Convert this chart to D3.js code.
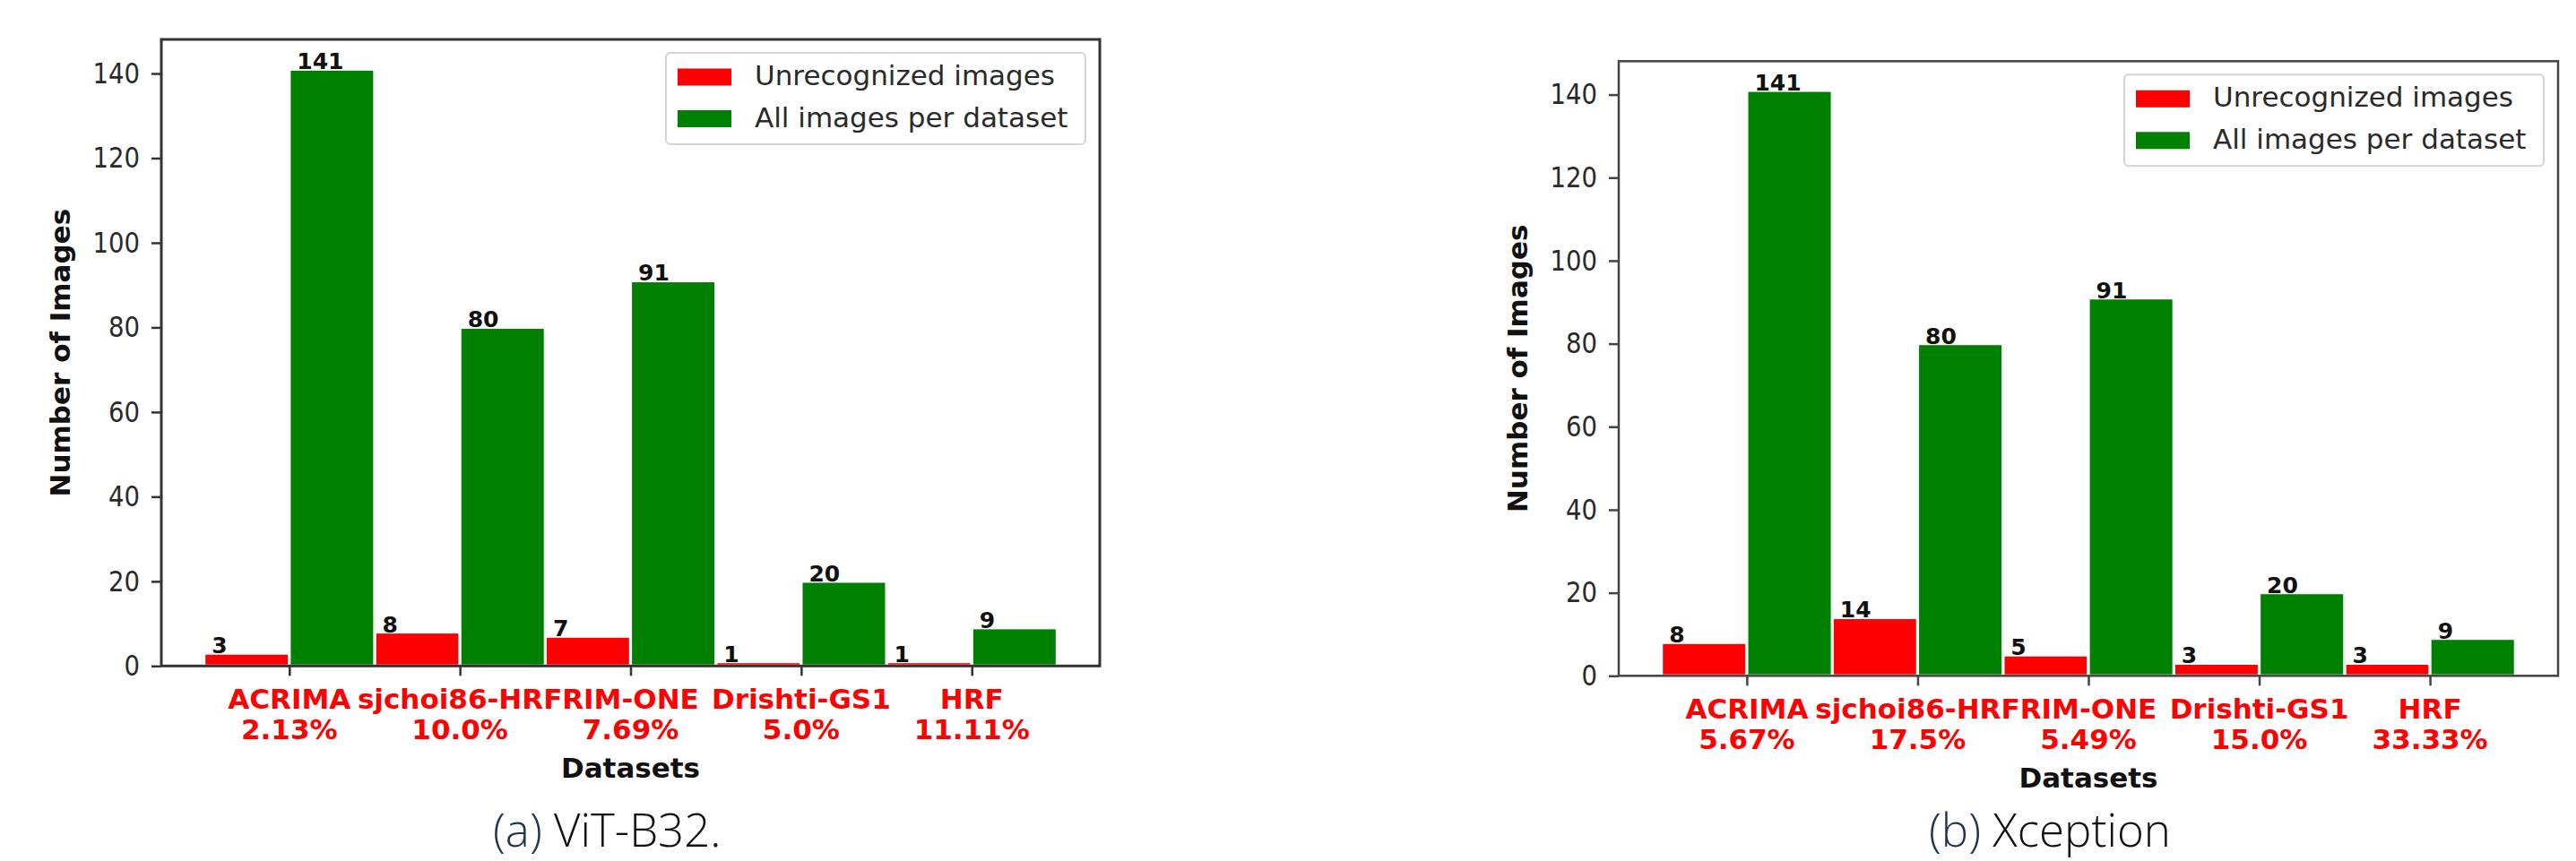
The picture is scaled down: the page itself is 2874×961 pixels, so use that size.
<!DOCTYPE html>
<html>
<head>
<meta charset="utf-8">
<script src="https://cdn.jsdelivr.net/npm/d3@7"></script>
<style>
  html, body { margin: 0; padding: 0; background: #fff; }
  svg { display: block; }
</style>
</head>
<body>
<svg id="fig" width="2874" height="961"></svg>
<script>
// ---------------- data ----------------
const categories = ["ACRIMA", "sjchoi86-HRF", "RIM-ONE", "Drishti-GS1", "HRF"];
const allImages = [141, 80, 91, 20, 9];
const vitUnrecognized = [3, 8, 7, 1, 1];
const xceptionUnrecognized = [8, 14, 5, 3, 3];
const vitPercent = ["2.13%", "10.0%", "7.69%", "5.0%", "11.11%"];
const xceptionPercent = ["5.67%", "17.5%", "5.49%", "15.0%", "33.33%"];
const yTicks = [0, 20, 40, 60, 80, 100, 120, 140];
const seriesNames = ["Unrecognized images", "All images per dataset"];
const seriesColors = ["#ff0000", "#008000"];
const yDomain = [0, 148.05];
const xDomain = [-0.75, 4.75];
const xLabel = "Datasets";
const yLabel = "Number of Images";
const captionTags = ["(a)", "(b)"];
const captionNames = ["ViT-B32.", "Xception"];

// ---------------- drawing ----------------
const svg = d3.select("#fig");
const FONT = "'DejaVu Sans', sans-serif";

function drawChart(cfg) {
  const g = svg.append("g");
  const x = d3.scaleLinear().domain(xDomain).range([cfg.left, cfg.right]);
  const y = d3.scaleLinear().domain(yDomain).range([cfg.bottom, cfg.top]);

  // bars
  const rows = categories.map((c, i) => ({i, red: cfg.unrec[i], green: allImages[i]}));
  g.selectAll("rect.red").data(rows).join("rect")
    .attr("x", d => x(d.i - 0.5)).attr("width", d => x(d.i) - x(d.i - 0.5))
    .attr("y", d => y(d.red)).attr("height", d => y(0) - y(d.red))
    .attr("fill", seriesColors[0]).attr("stroke", "#fff").attr("stroke-width", 3.2);
  g.selectAll("rect.green").data(rows).join("rect")
    .attr("x", d => x(d.i)).attr("width", d => x(d.i + 0.5) - x(d.i))
    .attr("y", d => y(d.green)).attr("height", d => y(0) - y(d.green))
    .attr("fill", seriesColors[1]).attr("stroke", "#fff").attr("stroke-width", 3.2);

  // value labels
  const lblOff = 0.045;
  g.selectAll("text.vr").data(rows).join("text")
    .attr("x", d => x(d.i - 0.5 + lblOff)).attr("y", d => y(d.red))
    .attr("font-family", FONT).attr("font-weight", "bold").attr("font-size", 25)
    .attr("fill", "#111").text(d => d.red);
  g.selectAll("text.vg").data(rows).join("text")
    .attr("x", d => x(d.i + lblOff)).attr("y", d => y(d.green))
    .attr("font-family", FONT).attr("font-weight", "bold").attr("font-size", 25)
    .attr("fill", "#111").text(d => d.green);

  // y axis
  const yAxis = d3.axisLeft(y).tickValues(yTicks).tickSize(11).tickPadding(12).tickFormat(d3.format("d"));
  const ya = g.append("g").attr("transform", `translate(${cfg.left},0)`).call(yAxis);
  ya.select(".domain").remove();
  ya.selectAll(".tick line").attr("stroke", cfg.spine).attr("stroke-width", 2.5);
  const sq = 0.86;
  ya.selectAll(".tick text").attr("font-family", FONT).attr("font-size", 32)
    .attr("fill", "#2a2a2a")
    .attr("x", -24 / sq).attr("transform", `scale(${sq},1)`);

  // x axis
  const xAxis = d3.axisBottom(x).tickValues(d3.range(categories.length)).tickSize(11).tickFormat("");
  const xa = g.append("g").attr("transform", `translate(0,${cfg.bottom})`).call(xAxis);
  xa.select(".domain").remove();
  xa.selectAll(".tick line").attr("stroke", cfg.spine).attr("stroke-width", 2.5);

  // x tick labels (two lines, red bold)
  const xl = g.selectAll("text.xl").data(categories).join("text")
    .attr("text-anchor", "middle").attr("font-family", FONT).attr("font-weight", "bold")
    .attr("font-size", 31).attr("fill", "#ff0000");
  xl.append("tspan").attr("x", (d, i) => x(i)).attr("y", cfg.bottom + 48).text(d => d);
  xl.append("tspan").attr("x", (d, i) => x(i)).attr("y", cfg.bottom + 82).text((d, i) => cfg.pct[i]);

  // frame
  g.append("rect").attr("x", cfg.left).attr("y", cfg.top)
    .attr("width", cfg.right - cfg.left).attr("height", cfg.bottom - cfg.top)
    .attr("fill", "none").attr("stroke", cfg.spine).attr("stroke-width", cfg.spineW);

  // axis labels
  g.append("text").attr("x", (cfg.left + cfg.right) / 2).attr("y", cfg.bottom + 125)
    .attr("text-anchor", "middle").attr("font-family", FONT).attr("font-weight", "bold")
    .attr("font-size", 31).attr("fill", "#111").text(xLabel);
  g.append("text")
    .attr("transform", `translate(${cfg.left - 102},${(cfg.top + cfg.bottom) / 2}) rotate(-90)`)
    .attr("text-anchor", "middle").attr("font-family", FONT).attr("font-weight", "bold")
    .attr("font-size", 31).attr("fill", "#111").text(yLabel);

  // legend
  const lw = 468, lh = 102;
  const lx = cfg.right - 16 - lw, ly = cfg.top + 15;
  const lg = g.append("g");
  lg.append("rect").attr("x", lx).attr("y", ly).attr("width", lw).attr("height", lh)
    .attr("rx", 5).attr("fill", "#fff").attr("stroke", "#d4d4d4").attr("stroke-width", 2);
  seriesNames.forEach((name, k) => {
    lg.append("rect").attr("x", lx + 13).attr("y", ly + 17.5 + k * 46.5)
      .attr("width", 60).attr("height", 19).attr("fill", seriesColors[k]);
    lg.append("text").attr("x", lx + 99).attr("y", ly + 35.5 + k * 47)
      .attr("font-family", FONT).attr("font-size", 31).attr("fill", "#2a2a2a").text(name);
  });

  // caption
  const cap = svg.append("text").attr("x", cfg.capX).attr("y", 945)
    .attr("font-family", "'Open Sans', 'Lato', sans-serif").attr("font-weight", 300)
    .attr("font-size", 51).attr("fill", "#111");
  cap.append("tspan").attr("fill", "#1f3552").text(cfg.capTag);
  cap.append("tspan").text(" " + cfg.capName);
}

drawChart({left: 180, right: 1227, top: 44, bottom: 743.3, unrec: vitUnrecognized,
  pct: vitPercent, spine: "#333", spineW: 3, capX: 550, capTag: captionTags[0], capName: captionNames[0]});
drawChart({left: 1806, right: 2854, top: 68.3, bottom: 754.3, unrec: xceptionUnrecognized,
  pct: xceptionPercent, spine: "#444", spineW: 2.5, capX: 2152, capTag: captionTags[1], capName: captionNames[1]});
</script>
</body>
</html>
